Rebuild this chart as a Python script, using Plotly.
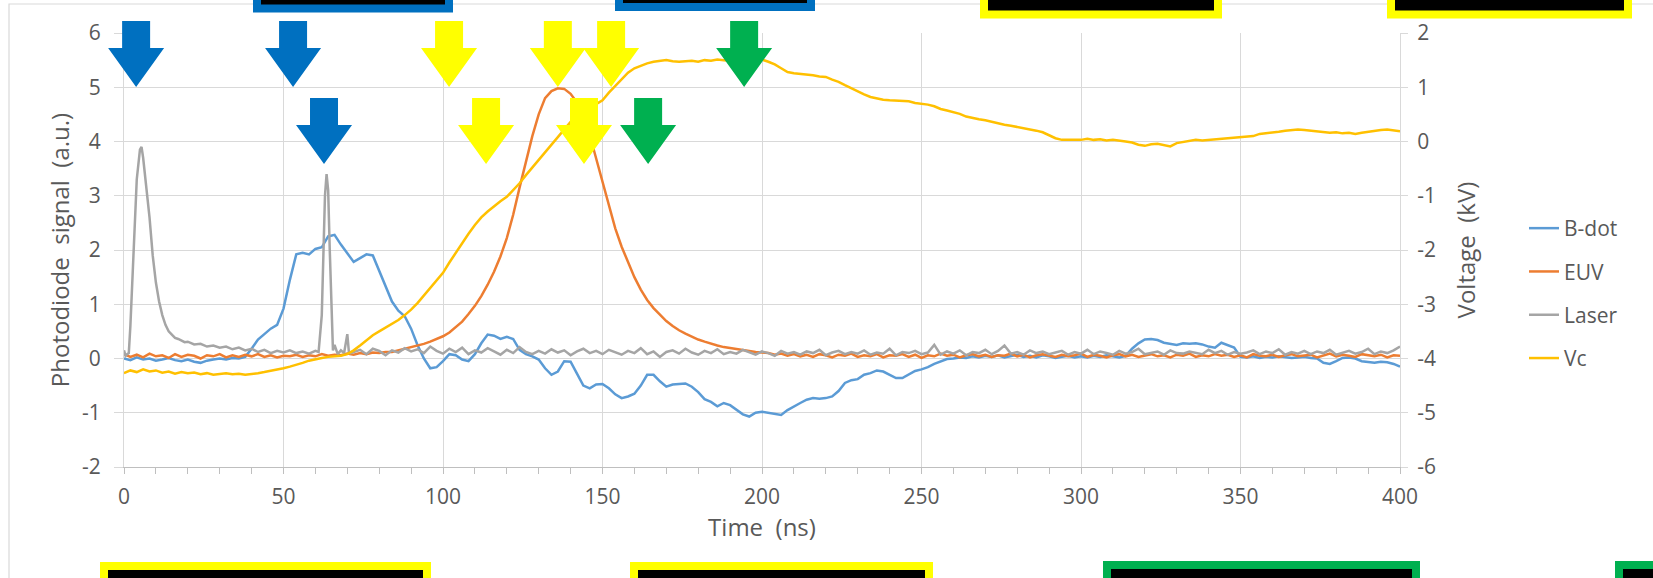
import plotly.graph_objects as go

# ---------------- data ----------------
time_ns = list(range(0, 401, 2))

bdot = [
    0.00, -0.03, 0.02, -0.02, 0.00, -0.04, -0.02, 0.01, -0.03, -0.05,
    -0.02, -0.06, -0.08, -0.04, -0.02, 0.00, -0.02, 0.01, 0.00, 0.03,
    0.18, 0.35, 0.45, 0.55, 0.62, 0.92, 1.45, 1.92, 1.95, 1.92,
    2.02, 2.05, 2.25, 2.28, 2.10, 1.95, 1.78, 1.85, 1.92, 1.90,
    1.62, 1.35, 1.05, 0.88, 0.78, 0.55, 0.25, 0.00, -0.18, -0.16,
    -0.05, 0.08, 0.06, -0.02, -0.05, 0.08, 0.28, 0.44, 0.42, 0.36,
    0.40, 0.36, 0.16, 0.08, 0.04, -0.02, -0.18, -0.30, -0.24, -0.05,
    -0.06, -0.28, -0.50, -0.55, -0.48, -0.47, -0.55, -0.66, -0.73, -0.70,
    -0.65, -0.50, -0.30, -0.30, -0.42, -0.52, -0.48, -0.47, -0.46, -0.52,
    -0.62, -0.75, -0.80, -0.88, -0.82, -0.86, -0.95, -1.03, -1.07, -1.00,
    -0.98, -1.00, -1.03, -1.04, -0.95, -0.88, -0.82, -0.76, -0.73, -0.74,
    -0.73, -0.70, -0.60, -0.45, -0.40, -0.38, -0.30, -0.27, -0.22, -0.24,
    -0.30, -0.36, -0.36, -0.30, -0.23, -0.20, -0.16, -0.10, -0.05, -0.01,
    0.00, 0.02, 0.01, 0.04, 0.02, 0.05, 0.03, 0.06, 0.02, 0.04,
    0.07, 0.03, 0.05, 0.02, 0.06, 0.04, 0.01, 0.03, 0.05, 0.02,
    0.04, 0.02, 0.05, 0.03, 0.06, 0.04, 0.02, 0.05, 0.18, 0.28,
    0.35, 0.36, 0.34, 0.29, 0.27, 0.25, 0.28, 0.27, 0.28, 0.26,
    0.22, 0.20, 0.29, 0.25, 0.20, 0.03, 0.02, 0.04, 0.01, 0.03,
    0.02, 0.04, 0.03, 0.01, 0.02, 0.03, 0.01, 0.00, -0.08, -0.10,
    -0.05, 0.01, 0.02, 0.00, -0.05, -0.07, -0.08, -0.06, -0.07, -0.10,
    -0.15,
]

euv = [
    0.08, 0.03, 0.07, 0.02, 0.09, 0.04, 0.06, 0.01, 0.08, 0.03,
    0.07, 0.05, 0.00, 0.06, 0.04, 0.08, 0.02, 0.06, 0.03, 0.07,
    0.04, 0.08, 0.03, 0.06, 0.02, 0.05, 0.04, 0.07, 0.03, 0.06,
    0.04, 0.08, 0.05, 0.07, 0.06, 0.09, 0.07, 0.10, 0.08, 0.11,
    0.10, 0.12, 0.12, 0.15, 0.17, 0.20, 0.23, 0.27, 0.31, 0.36,
    0.41, 0.48, 0.58, 0.68, 0.82, 0.97, 1.15, 1.36, 1.60, 1.88,
    2.22, 2.65, 3.15, 3.65, 4.10, 4.50, 4.80, 4.93, 4.98, 4.97,
    4.88, 4.72, 4.48, 4.12, 3.70, 3.28, 2.82, 2.40, 2.06, 1.78,
    1.50, 1.27, 1.08, 0.93, 0.80, 0.69, 0.60, 0.52, 0.46, 0.40,
    0.35, 0.31, 0.27, 0.24, 0.21, 0.19, 0.17, 0.15, 0.13, 0.12,
    0.11, 0.10,
    0.07, 0.09, 0.05, 0.08, 0.04, 0.07, 0.03, 0.08, 0.06, 0.02,
    0.07, 0.05, 0.09, 0.03, 0.06, 0.04, 0.08, 0.02, 0.06, 0.05,
    0.08, 0.03, 0.07, 0.01, 0.06, 0.04, 0.09, 0.05, 0.07, 0.02,
    0.06, 0.08, 0.04, 0.07, 0.03, 0.06, 0.05, 0.09, 0.04, 0.07,
    0.02, 0.06, 0.08, 0.05, 0.03, 0.07, 0.04, 0.06, 0.09, 0.03,
    0.07, 0.05, 0.02, 0.06, 0.08, 0.04, 0.07, 0.03, 0.05, 0.08,
    0.04, 0.06, 0.02, 0.07, 0.05, 0.09, 0.03, 0.06, 0.04, 0.08,
    0.05, 0.07, 0.03, 0.06, 0.02, 0.08, 0.05, 0.04, 0.07, 0.03,
    0.06, 0.08, 0.04, 0.05, 0.07, 0.02, 0.06, 0.09, 0.04, 0.07,
    0.05, 0.03, 0.08, 0.06, 0.04, 0.07, 0.02, 0.06, 0.05,
]

laser_t = [0, 0.5, 1, 1.5, 2, 3, 4, 5, 5.5, 6, 7, 8, 9, 10, 11, 12, 13, 14, 15,
           16, 17, 18, 19, 20, 22, 24, 26, 28, 30, 32, 34, 36, 38, 40, 42, 44,
           46, 48, 50, 52, 54, 56, 58, 60, 61, 62, 62.5, 63, 63.5, 64, 64.5, 65,
           65.5, 66, 67, 68, 69, 70, 70.5, 71] + list(range(72, 401, 2))
laser = [
    0.15, 0.05, 0.08, 0.10, 0.60, 2.00, 3.30, 3.85, 3.90, 3.70, 3.20, 2.60,
    1.90, 1.40, 1.05, 0.80, 0.62, 0.50, 0.44, 0.38, 0.36, 0.33, 0.30, 0.31,
    0.26, 0.27, 0.22, 0.24, 0.20, 0.22, 0.17, 0.20, 0.15, 0.18, 0.12, 0.16,
    0.10, 0.14, 0.11, 0.15, 0.10, 0.13, 0.09, 0.14, 0.12, 0.80, 2.00, 3.00,
    3.40, 3.10, 2.00, 0.80, 0.15, 0.25, 0.08, 0.15, 0.10, 0.45, 0.12, 0.10,
    0.12, 0.16, 0.08, 0.18, 0.14, 0.06, 0.15, 0.11, 0.19, 0.13,
    0.17, 0.10, 0.22, 0.14, 0.09, 0.18, 0.12, 0.20, 0.08, 0.15,
    0.11, 0.19, 0.13, 0.07, 0.16, 0.10, 0.21, 0.12, 0.08, 0.14,
    0.09, 0.17, 0.11, 0.15, 0.06, 0.13, 0.18, 0.10, 0.14, 0.08,
    0.16, 0.11, 0.07, 0.14, 0.10, 0.19, 0.08, 0.13, 0.03, 0.12,
    0.15, 0.09, 0.18, 0.11, 0.07, 0.14, 0.10, 0.17, 0.08, 0.12,
    0.09, 0.16, 0.11, 0.07, 0.13, 0.10, 0.05, 0.14, 0.09, 0.12,
    0.07, 0.13, 0.10, 0.16, 0.06, 0.11, 0.14, 0.08, 0.12, 0.09,
    0.15, 0.07, 0.11, 0.09, 0.18, 0.06, 0.12, 0.10, 0.14, 0.08,
    0.11, 0.25, 0.07, 0.13, 0.09, 0.15, 0.06, 0.12, 0.10, 0.16,
    0.08, 0.14, 0.24, 0.09, 0.12, 0.07, 0.15, 0.10, 0.13, 0.08,
    0.11, 0.14, 0.07, 0.12, 0.09, 0.16, 0.08, 0.13, 0.10, 0.07,
    0.14, 0.09, 0.12, 0.18, 0.08, 0.11, 0.13, 0.07, 0.15, 0.10,
    0.09, 0.13, 0.11, 0.08, 0.16, 0.10, 0.14, 0.07, 0.12, 0.09,
    0.11, 0.15, 0.08, 0.13, 0.10, 0.17, 0.07, 0.12, 0.09, 0.14,
    0.08, 0.13, 0.10, 0.16, 0.07, 0.11, 0.14, 0.09, 0.12, 0.18,
    0.08, 0.13, 0.10, 0.15, 0.22,
]

vc_kv = [
    -4.27, -4.22, -4.25, -4.20, -4.24, -4.22, -4.26, -4.24, -4.28, -4.25,
    -4.27, -4.26, -4.29, -4.27, -4.30, -4.28, -4.27, -4.29, -4.28, -4.30,
    -4.29, -4.27, -4.25, -4.23, -4.20, -4.18, -4.15, -4.12, -4.08, -4.04,
    -4.01, -3.99, -3.97, -3.96, -3.95, -3.92, -3.85, -3.76, -3.66, -3.57,
    -3.50, -3.43, -3.36, -3.29, -3.20, -3.10, -2.98, -2.84, -2.69, -2.55,
    -2.42, -2.23, -2.05, -1.87, -1.70, -1.54, -1.40, -1.29, -1.19, -1.10,
    -1.02, -0.90, -0.77, -0.62, -0.48, -0.34, -0.19, -0.04, 0.10, 0.22,
    0.36, 0.47, 0.55, 0.62, 0.69, 0.76, 0.90, 1.03, 1.16, 1.27,
    1.35, 1.40, 1.44, 1.47, 1.49, 1.50, 1.48, 1.47, 1.48, 1.49,
    1.47, 1.50, 1.49, 1.51, 1.50, 1.49, 1.52, 1.51, 1.54, 1.53,
    1.51, 1.47, 1.42, 1.35, 1.28, 1.26, 1.25, 1.24, 1.22, 1.20,
    1.19, 1.14, 1.10, 1.04, 0.98, 0.93, 0.87, 0.82, 0.79, 0.77,
    0.76, 0.75, 0.74, 0.74, 0.71, 0.70, 0.68, 0.65, 0.60, 0.57,
    0.54, 0.51, 0.46, 0.43, 0.41, 0.39, 0.36, 0.34, 0.31, 0.29,
    0.27, 0.25, 0.23, 0.20, 0.17, 0.12, 0.06, 0.03, 0.03, 0.02,
    0.03, 0.05, 0.03, 0.04, 0.02, 0.03, 0.02, 0.00, -0.02, -0.06,
    -0.08, -0.05, -0.04, -0.07, -0.09, -0.03, -0.01, 0.02, 0.03, 0.02,
    0.03, 0.04, 0.05, 0.06, 0.07, 0.08, 0.09, 0.10, 0.14, 0.15,
    0.16, 0.18, 0.20, 0.21, 0.22, 0.21, 0.20, 0.19, 0.17, 0.16,
    0.17, 0.15, 0.16, 0.14, 0.16, 0.18, 0.19, 0.21, 0.22, 0.20,
    0.19,
]

assert len(bdot) == len(time_ns) and len(euv) == len(time_ns) and len(vc_kv) == len(time_ns)
assert len(laser) == len(laser_t)

x_ticks = list(range(0, 401, 50))
y_left_ticks = [-2, -1, 0, 1, 2, 3, 4, 5, 6]
y_left_text = ["-2", "-1", "0", "1", "2", "3", "4", "5", "6"]
y_right_ticks = [-6, -5, -4, -3, -2, -1, 0, 1, 2]
y_right_text = ["-6", "-5", "-4", "-3", "-2", "-1", "0", "1", "2"]

# arrow markers: (time the arrow points at, row, colour)
arrow_t = [3.8, 53.0, 62.7, 101.9, 113.5, 136.0, 152.7, 144.2, 164.3, 194.4]
arrow_row = [0, 0, 1, 0, 1, 0, 0, 1, 1, 0]
arrow_col = ["#0070C0", "#0070C0", "#0070C0", "#FFFF00", "#FFFF00",
             "#FFFF00", "#FFFF00", "#FFFF00", "#00B050", "#00B050"]

# ---------------- layout geometry ----------------
W, H = 1653, 578
L, R, T, B = 124, 253, 33, 111
PW, PH = W - L - R, H - T - B

def px(xp):
    return (xp - L) / PW

def py(yp):
    return 1 - (yp - T) / PH

TXT = "#595959"
GRID = "#d9d9d9"
FONT = "Open Sans, Noto Sans, Arial, sans-serif"

fig = go.Figure()
fig.add_trace(go.Scatter(x=time_ns, y=bdot, name="B-dot", mode="lines",
                         line=dict(color="#5B9BD5", width=2.5), legendgroup="a"))
fig.add_trace(go.Scatter(x=time_ns, y=euv, name="EUV", mode="lines",
                         line=dict(color="#ED7D31", width=2.5), legendgroup="b"))
fig.add_trace(go.Scatter(x=laser_t, y=laser, name="Laser", mode="lines",
                         line=dict(color="#A5A5A5", width=2.5), legendgroup="c"))
fig.add_trace(go.Scatter(x=time_ns, y=vc_kv, name="Vc", mode="lines", yaxis="y2",
                         line=dict(color="#FFC000", width=2.5), legendgroup="d"))

shapes = []
# outer chart border
shapes.append(dict(type="rect", xref="paper", yref="paper", layer="below",
                   x0=px(9), x1=px(1700), y0=py(700), y1=py(4),
                   line=dict(color=GRID, width=1.2), fillcolor="rgba(0,0,0,0)"))

# arrows
rows = [(21, 48, 87), (98, 125, 164)]
for t, r, c in zip(arrow_t, arrow_row, arrow_col):
    cx = L + t / 400 * PW
    top, head, tip = rows[r]
    pts = [(cx - 14, top), (cx + 14, top), (cx + 14, head), (cx + 28, head),
           (cx, tip), (cx - 28, head), (cx - 14, head)]
    path = "M " + " L ".join(f"{px(a):.5f},{py(b):.5f}" for a, b in pts) + " Z"
    shapes.append(dict(type="path", xref="paper", yref="paper", path=path,
                       fillcolor=c, line=dict(width=0)))

# black boxes with coloured borders (outer edges in px)
boxes = [
    (253, 453, -40, 12.5, "#0070C0"),
    (615, 815, -40, 11, "#0070C0"),
    (980, 1222, -40, 18.5, "#FFFF00"),
    (1387, 1632, -40, 18.5, "#FFFF00"),
    (100, 431, 562, 640, "#FFFF00"),
    (630, 933, 562, 640, "#FFFF00"),
    (1103, 1420, 561, 640, "#00B050"),
    (1615, 1720, 561, 640, "#00B050"),
]
for x0, x1, y0, y1, c in boxes:
    shapes.append(dict(type="rect", xref="paper", yref="paper",
                       x0=px(x0 + 4), x1=px(x1 - 4), y0=py(y1 - 4), y1=py(y0 + 4),
                       fillcolor="black", line=dict(color=c, width=8)))

fig.update_layout(
    width=W, height=H, autosize=False,
    margin=dict(l=L, r=R, t=T, b=B, pad=0, autoexpand=False),
    paper_bgcolor="white", plot_bgcolor="white",
    font=dict(family=FONT, color=TXT, size=21),
    showlegend=True,
    legend=dict(x=px(1524), xanchor="left", y=py(208), yanchor="top",
                font=dict(size=21, color=TXT), tracegroupgap=13,
                bgcolor="rgba(0,0,0,0)", itemwidth=30),
    xaxis=dict(range=[0, 400], tickvals=x_ticks, showgrid=True, gridcolor=GRID,
               gridwidth=1, zeroline=False, showline=True, linecolor="#bfbfbf",
               linewidth=1, ticks="outside", ticklen=6, tickcolor="#bfbfbf",
               automargin=False, ticklabelstandoff=5,
               tickfont=dict(size=21, color=TXT),
               minor=dict(dtick=10, ticks="outside", ticklen=6, tickcolor="#bfbfbf",
                          showgrid=False),
               title=dict(text="Time \u00a0(ns)", font=dict(size=24, color=TXT), standoff=9)),
    yaxis=dict(range=[-2, 6], tickvals=y_left_ticks, ticktext=y_left_text,
               showgrid=True, gridcolor=GRID, gridwidth=1, zeroline=False,
               showline=True, linecolor=GRID, ticks="outside", ticklen=9,
               automargin=False, ticklabelstandoff=9,
               tickcolor=GRID, tickfont=dict(size=21, color=TXT),
               title=dict(text="Photodiode \u00a0signal \u00a0(a.u.)",
                          font=dict(size=24, color=TXT), standoff=5)),
    yaxis2=dict(range=[-6, 2], tickvals=y_right_ticks, ticktext=y_right_text,
                overlaying="y", side="right", showgrid=False, zeroline=False,
                showline=True, linecolor=GRID, ticks="outside", ticklen=7,
                automargin=False, ticklabelstandoff=5,
                tickcolor=GRID, tickfont=dict(size=21, color=TXT),
                title=dict(text="Voltage \u00a0(kV)", font=dict(size=24, color=TXT),
                           standoff=23)),
    shapes=shapes,
)

fig.write_html("out.html", config={"displayModeBar": False},
               post_script="document.body.style.margin='0';document.body.style.overflow='hidden';")
